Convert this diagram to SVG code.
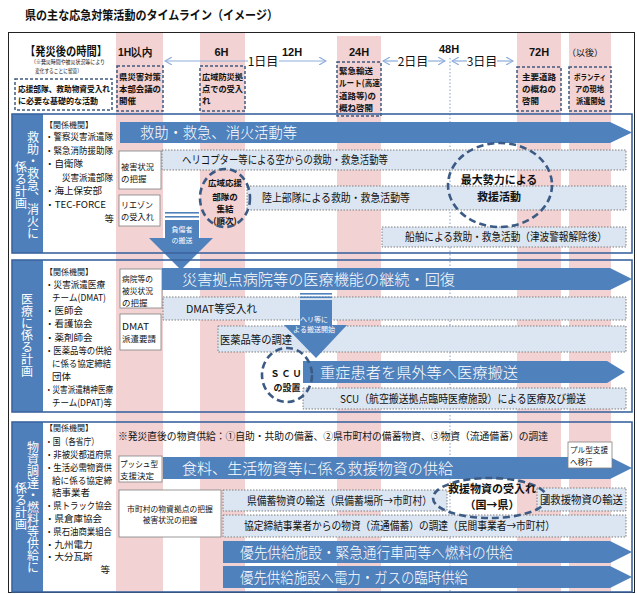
<svg xmlns="http://www.w3.org/2000/svg" width="637" height="594" viewBox="0 0 637 594">
<style>
text{font-family:"Noto Sans CJK JP","Noto Sans CJK SC",sans-serif;fill:#111}
.pk{fill:#f2d2d2}
.big{fill:#4f81bd}
.bt{fill:#fff;font-size:15px;font-weight:300}
.bar{fill:#dce6f2;stroke:#7f7f7f;stroke-width:1;stroke-dasharray:1.5 1.5}
.brt{font-size:11px}
.sec{fill:none;stroke:#3b659f;stroke-width:1.6}
.lab{fill:#4f7fbb}
.lt{fill:#fff;font-size:12px;writing-mode:vertical-rl;text-anchor:middle}
.hb{fill:none;stroke:#3f587d;stroke-width:1.5;stroke-dasharray:3 2}
.ht{font-size:8.5px;font-weight:bold}
.tm{font-family:"Liberation Sans",sans-serif;font-size:11px;font-weight:bold;text-anchor:middle}
.circ{fill:none;stroke:#3c5b84;stroke-width:2.6;stroke-dasharray:7 4}
.ct{font-weight:bold;text-anchor:middle}
.wb{fill:#fff;stroke:#808080;stroke-width:0.8}
.st{font-size:8.5px}
.ls{font-size:9.5px}
.dw{fill:#fff;font-size:7px;text-anchor:middle}
.da{stroke:#8eaedb;stroke-width:1.2;fill:none}
</style>
<defs>
<marker id="ah" viewBox="0 0 8 8" refX="7" refY="4" markerWidth="8" markerHeight="8" markerUnits="userSpaceOnUse" orient="auto-start-reverse">
<path d="M0,0 L7,4 L0,8" fill="none" stroke="#8eaedb" stroke-width="1.2"/>
</marker>
</defs>

<rect x="0" y="0" width="637" height="594" fill="#fff"/>

<!-- pink time stripes -->
<g id="stripes">
<rect class="pk" x="116" y="33" width="47" height="559"/>
<rect class="pk" x="200" y="33" width="45" height="559"/>
<rect class="pk" x="337" y="36" width="44" height="556"/>
<rect class="pk" x="517" y="33" width="44" height="559"/>
<rect class="pk" x="569" y="33" width="42" height="559"/>
<line x1="450" y1="58" x2="450" y2="592" stroke="#7f9fcf" stroke-width="1" stroke-dasharray="1.5 2"/>
</g>

<text x="25" y="19.5" font-size="12.5" font-weight="bold" textLength="253" lengthAdjust="spacingAndGlyphs">県の主な応急対策活動のタイムライン（イメージ）</text>
<rect x="8.5" y="32.5" width="626" height="560" fill="none" stroke="#222" stroke-width="1"/>

<!-- header -->
<g id="header">
<text x="25" y="56" font-size="12" font-weight="bold" textLength="82" lengthAdjust="spacingAndGlyphs">【発災後の時間】</text>
<text x="31" y="64" font-size="5.5" textLength="74" lengthAdjust="spacingAndGlyphs">（※発災時間や被災状況等により</text>
<text x="35" y="72.5" font-size="5.5" textLength="47" lengthAdjust="spacingAndGlyphs">変化することに留意）</text>
<rect class="hb" x="15" y="79" width="97" height="31"/>
<text class="ht" x="18" y="92" textLength="92" lengthAdjust="spacingAndGlyphs">応援部隊、救助物資受入れ</text>
<text class="ht" x="18" y="104" textLength="80" lengthAdjust="spacingAndGlyphs">に必要な基礎的な活動</text>

<text class="tm" x="135" y="56" textLength="34" lengthAdjust="spacingAndGlyphs">1H以内</text>
<text class="tm" x="221.5" y="56">6H</text>
<text class="tm" x="292" y="56">12H</text>
<text class="tm" x="359" y="56">24H</text>
<text class="tm" x="449" y="53">48H</text>
<text class="tm" x="539" y="56">72H</text>
<text x="585" y="55.5" font-size="9" text-anchor="middle">（以後）</text>

<line class="da" x1="165" y1="61" x2="248" y2="61" marker-start="url(#ah)"/>
<line class="da" x1="279" y1="61" x2="326" y2="61" marker-end="url(#ah)"/>
<text x="263" y="65.5" font-size="12" text-anchor="middle">1日目</text>
<line class="da" x1="383" y1="61" x2="398" y2="61" marker-start="url(#ah)"/>
<line class="da" x1="428" y1="61" x2="445" y2="61" marker-end="url(#ah)"/>
<text x="413" y="65.5" font-size="12" text-anchor="middle">2日目</text>
<line class="da" x1="452" y1="61" x2="467" y2="61" marker-start="url(#ah)"/>
<line class="da" x1="497" y1="61" x2="513" y2="61" marker-end="url(#ah)"/>
<text x="482" y="65.5" font-size="12" text-anchor="middle">3日目</text>
</g>

<g id="h1">
<rect class="hb" x="117" y="66" width="46" height="45"/>
<text class="ht" x="119" y="80" textLength="42" lengthAdjust="spacingAndGlyphs">県災害対策</text>
<text class="ht" x="119" y="92" textLength="42" lengthAdjust="spacingAndGlyphs">本部会議の</text>
<text class="ht" x="119" y="104">開催</text>
</g>
<g id="h6">
<rect class="hb" x="200" y="66" width="45" height="45"/>
<text class="ht" x="202" y="80" textLength="41" lengthAdjust="spacingAndGlyphs">広域防災拠</text>
<text class="ht" x="202" y="92" textLength="41" lengthAdjust="spacingAndGlyphs">点での受入</text>
<text class="ht" x="202" y="104">れ</text>
</g>
<g id="h24">
<rect class="hb" x="337" y="62" width="44" height="54"/>
<text class="ht" x="339" y="73.5" textLength="34" lengthAdjust="spacingAndGlyphs">緊急輸送</text>
<text class="ht" x="339" y="86" textLength="41" lengthAdjust="spacingAndGlyphs">ルート(高速</text>
<text class="ht" x="339" y="98.5" textLength="37" lengthAdjust="spacingAndGlyphs">道路等)の</text>
<text class="ht" x="339" y="111" textLength="34" lengthAdjust="spacingAndGlyphs">概ね啓開</text>
</g>
<g id="h72">
<rect class="hb" x="517" y="67" width="44" height="44"/>
<text class="ht" x="522" y="80" textLength="34" lengthAdjust="spacingAndGlyphs">主要道路</text>
<text class="ht" x="522" y="92" textLength="34" lengthAdjust="spacingAndGlyphs">の概ねの</text>
<text class="ht" x="522" y="104">啓開</text>
</g>
<g id="hafter">
<rect class="hb" x="569" y="67" width="42" height="44"/>
<text class="ht" x="574" y="80" font-size="7.5" textLength="32" lengthAdjust="spacingAndGlyphs">ボランティ</text>
<text class="ht" x="575" y="92" font-size="7.5" textLength="29" lengthAdjust="spacingAndGlyphs">アの現地</text>
<text class="ht" x="576" y="104" font-size="7.5" textLength="29" lengthAdjust="spacingAndGlyphs">派遣開始</text>
</g>

<!-- ===== Section 1 ===== -->
<g id="sec1">
<rect class="lab" x="12" y="114" width="31" height="139"/>
<text class="lt" x="33" y="185">救助・救急、消火に</text>
<text class="lt" x="21" y="185">係る計画</text>
<text x="45" y="127.5" font-size="8">【関係機関】</text>
<text class="ls" x="45" y="140" textLength="68" lengthAdjust="spacingAndGlyphs">・警察災害派遣隊</text>
<text class="ls" x="45" y="153.5" textLength="68" lengthAdjust="spacingAndGlyphs">・緊急消防援助隊</text>
<text class="ls" x="45" y="167">・自衛隊</text>
<text class="ls" x="62" y="180.5" textLength="51" lengthAdjust="spacingAndGlyphs">災害派遣部隊</text>
<text class="ls" x="45" y="194">・海上保安部</text>
<text class="ls" x="45" y="207.5" textLength="61" lengthAdjust="spacingAndGlyphs">・TEC-FORCE</text>
<text class="ls" x="114" y="221.5" text-anchor="end">等</text>
</g>
<g id="s1arrow">
<path class="big" d="M120,122 H610 L632,132.5 L610,143 H120 Z"/>
<text class="bt" x="140" y="138" textLength="157" lengthAdjust="spacingAndGlyphs">救助・救急、消火活動等</text>
</g>
<g id="s1box1"><rect class="wb" x="119" y="151" width="42" height="38"/>
<text class="st" x="121" y="170" textLength="33" lengthAdjust="spacingAndGlyphs">被害状況</text>
<text class="st" x="121" y="182">の把握</text></g>
<g id="s1box2"><rect class="wb" x="119" y="195" width="41" height="31"/>
<text class="st" x="121" y="207.5" textLength="32" lengthAdjust="spacingAndGlyphs">リエゾン</text>
<text class="st" x="121" y="220" textLength="33" lengthAdjust="spacingAndGlyphs">の受入れ</text></g>
<g id="s1bar1"><rect class="bar" x="162" y="150" width="464" height="20"/>
<text class="brt" x="182" y="164" textLength="206" lengthAdjust="spacingAndGlyphs">ヘリコプター等による空からの救助・救急活動等</text></g>
<g id="s1bar2"><rect class="bar" x="247" y="186" width="379" height="24"/>
<text class="brt" x="262" y="202" textLength="148" lengthAdjust="spacingAndGlyphs">陸上部隊による救助・救急活動等</text></g>
<g id="s1bar3"><rect class="bar" x="382" y="227" width="244" height="20"/>
<text class="brt" x="405" y="241" textLength="202" lengthAdjust="spacingAndGlyphs">船舶による救助・救急活動（津波警報解除後）</text></g>
<g id="s1c1"><ellipse class="circ" cx="225" cy="198" rx="25" ry="29"/>
<text class="ct" x="225" y="185.5" font-size="8.5">広域応援</text>
<text class="ct" x="225" y="200" font-size="8.5">部隊の</text>
<text class="ct" x="225" y="211.5" font-size="8.5">集結</text>
<text class="ct" x="225" y="223.5" font-size="8.5">(順次)</text></g>
<g id="s1c2"><ellipse class="circ" cx="500" cy="185" rx="52" ry="42"/>
<text class="ct" x="499" y="184" font-size="11">最大勢力による</text>
<text class="ct" x="499" y="201" font-size="11">救援活動</text></g>

<!-- ===== Section 2 ===== -->
<g id="sec2">
<rect class="lab" x="12" y="260" width="31" height="152"/>
<text class="lt" x="27" y="335">医療に係る計画</text>
<text x="45" y="274.5" font-size="8">【関係機関】</text>
<text class="ls" x="45" y="288" textLength="60" lengthAdjust="spacingAndGlyphs">・災害派遣医療</text>
<text class="ls" x="52" y="301" textLength="54" lengthAdjust="spacingAndGlyphs">チーム(DMAT)</text>
<text class="ls" x="45" y="314">・医師会</text>
<text class="ls" x="45" y="327">・看護協会</text>
<text class="ls" x="45" y="340.5">・薬剤師会</text>
<text class="ls" x="45" y="353.5" textLength="67" lengthAdjust="spacingAndGlyphs">・医薬品等の供給</text>
<text class="ls" x="52" y="366.5" textLength="59" lengthAdjust="spacingAndGlyphs">に係る協定締結</text>
<text class="ls" x="52" y="379.5">団体</text>
<text class="ls" x="45" y="392.5" textLength="68" lengthAdjust="spacingAndGlyphs">・災害派遣精神医療</text>
<text class="ls" x="52" y="405.5" textLength="60" lengthAdjust="spacingAndGlyphs">チーム(DPAT)等</text>
</g>
<g id="s2box1"><rect class="wb" x="120" y="269" width="42" height="39"/>
<text class="st" x="122" y="281.5" font-size="8" textLength="31" lengthAdjust="spacingAndGlyphs">病院等の</text>
<text class="st" x="122" y="293.5" font-size="8" textLength="31" lengthAdjust="spacingAndGlyphs">被災状況</text>
<text class="st" x="122" y="305.5" font-size="8">の把握</text></g>
<g id="s2box2"><rect class="wb" x="120" y="314" width="41" height="36"/>
<text class="st" x="122" y="330" font-family="Liberation Sans" textLength="27" lengthAdjust="spacingAndGlyphs">DMAT</text>
<text class="st" x="122" y="342" font-size="8">派遣要請</text></g>
<g id="s2bar1"><rect class="bar" x="163" y="297" width="463" height="23"/>
<text class="brt" x="186" y="313" textLength="71" lengthAdjust="spacingAndGlyphs">DMAT等受入れ</text></g>
<g id="s2bar2"><rect class="bar" x="218" y="326" width="408" height="26"/>
<text class="brt" x="220" y="343.5" font-size="12" textLength="72" lengthAdjust="spacingAndGlyphs">医薬品等の調達</text></g>
<g id="s2bar3"><rect class="bar" x="303" y="388" width="323" height="21"/>
<text class="brt" x="340" y="402.5" textLength="246" lengthAdjust="spacingAndGlyphs">SCU（航空搬送拠点臨時医療施設）による医療及び搬送</text></g>
<g id="s2heli">
<rect class="big" x="300" y="293" width="32" height="1.6"/>
<rect class="big" x="300" y="296.5" width="32" height="1.6"/>
<path class="big" d="M300,300 H332 V325 H347 L316,358 L284,325 H300 Z"/>
<text class="dw" x="314" y="322">ヘリ等に</text>
<text class="dw" x="314" y="332">よる搬送開始</text>
</g>
<g id="s2arrow2">
<path class="big" d="M303,361 H607 L625,372 L607,383 H303 Z"/>
<text class="bt" x="320" y="377.5" textLength="198" lengthAdjust="spacingAndGlyphs">重症患者を県外等へ医療搬送</text>
</g>
<g id="s2c"><ellipse class="circ" cx="287" cy="375" rx="25" ry="27"/>
<text class="ct" x="287" y="376.5" font-size="9" letter-spacing="2">ＳＣＵ</text>
<text class="ct" x="287" y="390.5" font-size="9">の設置</text></g>

<!-- injured transport arrow (sec1 -> sec2) -->
<g id="injured">
<rect class="big" x="165" y="212" width="34" height="1.6"/>
<rect class="big" x="165" y="216" width="34" height="1.6"/>
<path class="big" d="M165,220 H199 V238 H213 L181,270 L149,238 H165 Z"/>
<text class="dw" x="182" y="232">負傷者</text>
<text class="dw" x="182" y="243">の搬送</text>
</g>
<g id="s2arrow">
<path class="big" d="M162,268 H610 L632,279 L610,290 H162 Z"/>
<text class="bt" x="182" y="284.5" textLength="273" lengthAdjust="spacingAndGlyphs">災害拠点病院等の医療機能の継続・回復</text>
</g>

<!-- ===== Section 3 ===== -->
<g id="sec3">
<rect class="lab" x="12" y="422" width="31" height="170"/>
<text class="lt" x="33" y="507">物資調達・燃料等供給に</text>
<text class="lt" x="21" y="506">係る計画</text>
<text x="45" y="431" font-size="8">【関係機関】</text>
<text class="ls" x="45" y="445" textLength="54" lengthAdjust="spacingAndGlyphs">・国（各省庁）</text>
<text class="ls" x="45" y="458" textLength="67" lengthAdjust="spacingAndGlyphs">・非被災都道府県</text>
<text class="ls" x="45" y="470.5" textLength="67" lengthAdjust="spacingAndGlyphs">・生活必需物資供</text>
<text class="ls" x="52" y="483.5" textLength="60" lengthAdjust="spacingAndGlyphs">給に係る協定締</text>
<text class="ls" x="52" y="496">結事業者</text>
<text class="ls" x="45" y="509" textLength="67" lengthAdjust="spacingAndGlyphs">・県トラック協会</text>
<text class="ls" x="45" y="522">・県倉庫協会</text>
<text class="ls" x="45" y="534.5" textLength="67" lengthAdjust="spacingAndGlyphs">・県石油商業組合</text>
<text class="ls" x="45" y="547.5">・九州電力</text>
<text class="ls" x="45" y="560">・大分瓦斯</text>
<text class="ls" x="110" y="573" text-anchor="end">等</text>
</g>
<text x="118" y="440" font-size="10" textLength="430" lengthAdjust="spacingAndGlyphs">※発災直後の物資供給：①自助・共助の備蓄、②県市町村の備蓄物資、③物資（流通備蓄）の調達</text>
<g id="s3box1"><rect class="wb" x="119" y="456" width="43" height="26"/>
<text class="st" x="120" y="466.5" font-size="8" textLength="38" lengthAdjust="spacingAndGlyphs">プッシュ型</text>
<text class="st" x="120" y="478.5" font-size="8">支援決定</text></g>
<g id="s3arrow1">
<path class="big" d="M163,457 H610 L632,468 L610,479 H163 Z"/>
<text class="bt" x="182" y="473.5" textLength="271" lengthAdjust="spacingAndGlyphs">食料、生活物資等に係る救援物資の供給</text>
</g>
<g id="s3pull"><rect class="wb" x="568" y="442" width="44" height="26" stroke="#555"/>
<text x="570" y="452.5" font-size="7.5" textLength="38" lengthAdjust="spacingAndGlyphs">プル型支援</text>
<text x="570" y="465" font-size="7.5">へ移行</text></g>
<g id="s3box2"><rect class="wb" x="119" y="490" width="102" height="47"/>
<text x="170" y="512" font-size="7.8" text-anchor="middle">市町村の物資拠点の把握</text>
<text x="170" y="523" font-size="7.8" text-anchor="middle">被害状況の把握</text></g>
<g id="s3bar1"><rect class="bar" x="223" y="490" width="224" height="21"/>
<text class="brt" x="247" y="504.5" textLength="185" lengthAdjust="spacingAndGlyphs">県備蓄物資の輸送（県備蓄場所→市町村）</text></g>
<g id="s3bar2"><rect class="bar" x="537" y="488" width="89" height="23"/>
<text class="brt" x="540" y="503.5" textLength="83" lengthAdjust="spacingAndGlyphs">国救援物資の輸送</text></g>
<g id="s3bar3"><rect class="bar" x="223" y="515" width="403" height="22"/>
<text class="brt" x="244" y="530" textLength="311" lengthAdjust="spacingAndGlyphs">協定締結事業者からの物資（流通備蓄）の調達（民間事業者→市町村）</text></g>
<g id="s3c"><ellipse class="circ" cx="490" cy="498" rx="57" ry="20"/>
<text class="ct" x="492" y="493" font-size="11">救援物資の受入れ</text>
<text class="ct" x="492" y="509" font-size="11">（国→県）</text></g>
<g id="s3arrow2">
<path class="big" d="M223,541 H610 L632,552 L610,563 H223 Z"/>
<text class="bt" x="240" y="557.5" textLength="273" lengthAdjust="spacingAndGlyphs">優先供給施設・緊急通行車両等へ燃料の供給</text>
</g>
<g id="s3arrow3">
<path class="big" d="M223,566 H610 L632,577 L610,588 H223 Z"/>
<text class="bt" x="240" y="582.5" textLength="228" lengthAdjust="spacingAndGlyphs">優先供給施設へ電力・ガスの臨時供給</text>
</g>

<!-- section frames -->
<g id="frames">
<rect class="sec" x="12" y="114" width="620" height="139"/>
<rect class="sec" x="12" y="260" width="620" height="152"/>
<rect class="sec" x="12" y="422" width="620" height="170"/>
</g>
</svg>
